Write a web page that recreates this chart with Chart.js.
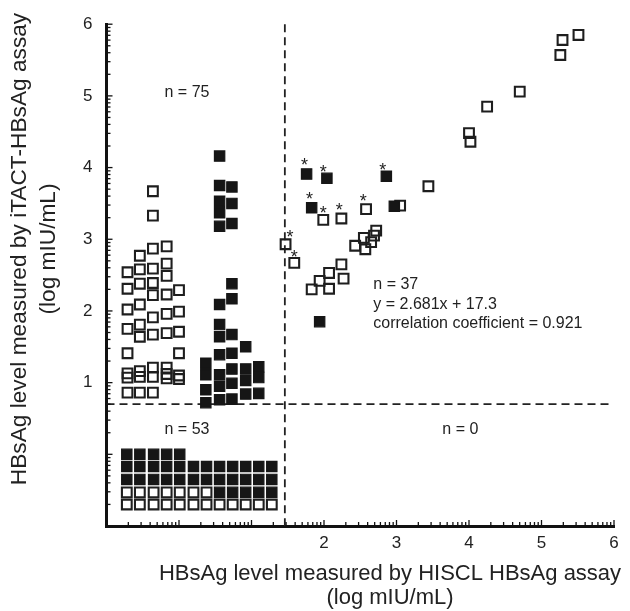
<!DOCTYPE html>
<html>
<head>
<meta charset="utf-8">
<script src="https://cdn.jsdelivr.net/npm/chart.js@4.4.1/dist/chart.umd.min.js"></script>
<style>
  html, body { margin: 0; padding: 0; background: #fff; }
</style>
</head>
<body>
<canvas id="chart" width="630" height="611"></canvas>
<script>
// HISCL below cutoff, iTACT above cutoff (strip columns on the left)
const leftOpen = [
  [-0.71, 2.54], [-0.71, 2.31], [-0.71, 2.02], [-0.71, 1.75], [-0.71, 1.41], [-0.71, 1.13], [-0.71, 1.07], [-0.71, 0.86],
  [-0.54, 2.77], [-0.54, 2.58], [-0.54, 2.38], [-0.54, 2.09], [-0.54, 1.81], [-0.54, 1.64], [-0.54, 1.16], [-0.54, 1.08], [-0.54, 0.86],
  [-0.36, 3.67], [-0.36, 3.33], [-0.36, 2.87], [-0.36, 2.59], [-0.36, 2.39], [-0.36, 2.22], [-0.36, 1.91], [-0.36, 1.67], [-0.36, 1.21], [-0.36, 1.08], [-0.36, 0.86],
  [-0.17, 2.90], [-0.17, 2.66], [-0.17, 2.49], [-0.17, 2.23], [-0.17, 1.96], [-0.17, 1.69], [-0.17, 1.21], [-0.17, 1.12], [-0.17, 1.06],
  [0.00, 2.29], [0.00, 1.99], [0.00, 1.71], [0.00, 1.41], [0.00, 1.10], [0.00, 1.05]
];
const leftFilled = [
  [0.37, 1.27], [0.37, 1.11], [0.37, 0.90], [0.37, 0.72],
  [0.56, 4.16], [0.56, 3.75], [0.56, 3.53], [0.56, 3.37], [0.56, 3.18], [0.56, 2.09], [0.56, 1.81], [0.56, 1.64], [0.56, 1.39], [0.56, 1.11], [0.56, 0.95], [0.56, 0.76],
  [0.73, 3.73], [0.73, 3.50], [0.73, 3.22], [0.73, 2.38], [0.73, 2.17], [0.73, 1.67], [0.73, 1.41], [0.73, 1.19], [0.73, 0.99], [0.73, 0.77],
  [0.92, 1.50], [0.92, 1.19], [0.92, 1.03], [0.92, 0.84],
  [1.10, 1.22], [1.10, 1.07], [1.10, 0.85]
];

// both assays below cutoff (n = 53), drawn as a block: F = filled, O = open
const gridCols = [-0.72, -0.54, -0.35, -0.17, 0.01, 0.20, 0.38, 0.56, 0.74, 0.92, 1.10, 1.28];
const gridRows = [0.00, -0.17, -0.35, -0.53, -0.70];
const gridMarks = [
  'FFFFF.......',
  'FFFFFFFFFFFF',
  'FFFFFFFFFFFF',
  'OOOOOOOFFFFF',
  'OOOOOOOOOOOO'
];

// both above cutoff (n = 37)
const rightOpen = [
  [3.44, 3.74], [3.05, 3.47], [1.99, 3.27], [2.24, 3.29], [2.58, 3.42], [1.47, 2.93], [1.59, 2.67],
  [2.72, 3.12], [2.69, 3.05], [2.55, 3.02], [2.65, 2.96], [2.43, 2.91], [2.57, 2.86],
  [2.24, 2.65], [2.07, 2.53], [1.94, 2.42], [2.27, 2.45], [1.83, 2.30], [2.07, 2.31],
  [5.51, 5.85], [5.29, 5.78], [5.26, 5.57], [4.70, 5.06], [4.25, 4.85], [4.00, 4.48], [4.02, 4.36]
];
const rightFilled = [
  [1.76, 3.91], [2.04, 3.85], [2.86, 3.88], [1.83, 3.44], [2.97, 3.46], [1.94, 1.85]
];

// asterisk annotations
const stars = [
  [1.73, 4.09], [1.99, 4.00], [2.81, 4.02], [1.80, 3.62], [1.99, 3.42],
  [2.21, 3.46], [2.54, 3.59], [1.53, 3.09], [1.59, 2.81]
];

const cutX = 1.46;
const cutY = 0.70;

const xTickLabels = ['2', '3', '4', '5', '6'];
const yTickLabels = ['1', '2', '3', '4', '5', '6'];

const quadrantText = [
  { text: 'n = 75', x: 0.11, y: 4.99 },
  { text: 'n = 53', x: 0.11, y: 0.28 },
  { text: 'n = 0', x: 3.88, y: 0.29 }
];
const fitText = ['n = 37', 'y = 2.681x + 17.3', 'correlation coefficient = 0.921'];
const fitTextAt = { x: 2.68, y: 2.30 };

const FONT = "'Liberation Sans', Arial, sans-serif";
const INK = '#222';

// log-style minor ticks on both axes
const logTicks = [];
for (let d = -1; d < 6; d++) {
  for (let k = 1; k < 10; k++) logTicks.push(d + Math.log10(k));
}
logTicks.push(6);

const toPts = arr => arr.map(p => ({ x: p[0], y: p[1] }));

const gridOpen = [];
const gridFilled = [];
gridMarks.forEach((row, r) => {
  row.split('').forEach((m, c) => {
    if (m === 'O') gridOpen.push({ x: gridCols[c], y: gridRows[r] });
    if (m === 'F') gridFilled.push({ x: gridCols[c], y: gridRows[r] });
  });
});

const openStyle = {
  pointStyle: 'rect', pointRadius: 6.9, borderWidth: 2.1,
  borderColor: '#1e1e1e', backgroundColor: 'rgba(0,0,0,0)'
};
const filledStyle = {
  pointStyle: 'rect', pointRadius: 7.3, borderWidth: 1.2,
  borderColor: '#161616', backgroundColor: '#161616'
};

const overlay = {
  id: 'overlay',
  beforeDatasetsDraw(chart) {
    const { ctx, chartArea: a, scales: { x, y } } = chart;
    ctx.save();
    ctx.strokeStyle = INK;
    ctx.lineWidth = 1.8;
    ctx.setLineDash([8, 5]);
    const cx = x.getPixelForValue(cutX);
    ctx.beginPath(); ctx.moveTo(cx, a.top); ctx.lineTo(cx, a.bottom); ctx.stroke();
    const cy = y.getPixelForValue(cutY);
    ctx.beginPath(); ctx.moveTo(a.left, cy); ctx.lineTo(a.right - 2, cy); ctx.stroke();
    ctx.restore();
  },
  afterDraw(chart) {
    const { ctx, chartArea: a, scales: { x, y } } = chart;
    ctx.save();
    // inward tick marks
    ctx.strokeStyle = '#111';
    ctx.lineWidth = 1.3;
    x.ticks.forEach(t => {
      const px = x.getPixelForValue(t.value);
      const len = Number.isInteger(t.value) ? 6 : 4;
      ctx.beginPath(); ctx.moveTo(px, a.bottom); ctx.lineTo(px, a.bottom - len); ctx.stroke();
    });
    y.ticks.forEach(t => {
      const py = y.getPixelForValue(t.value);
      const len = Number.isInteger(t.value) ? 6 : 4;
      ctx.beginPath(); ctx.moveTo(a.left, py); ctx.lineTo(a.left + len, py); ctx.stroke();
    });

    ctx.fillStyle = INK;
    ctx.font = '16px ' + FONT;
    ctx.textBaseline = 'alphabetic';
    ctx.textAlign = 'center';
    quadrantText.forEach(q => {
      ctx.fillText(q.text, x.getPixelForValue(q.x), y.getPixelForValue(q.y));
    });
    ctx.textAlign = 'left';
    fitText.forEach((line, i) => {
      ctx.fillText(line, x.getPixelForValue(fitTextAt.x), y.getPixelForValue(fitTextAt.y) + i * 19.3);
    });

    ctx.textAlign = 'center';
    ctx.font = '18px ' + FONT;
    stars.forEach(s => {
      ctx.fillText('*', x.getPixelForValue(s[0]), y.getPixelForValue(s[1]) + 10);
    });

    // axis titles
    ctx.font = '22px ' + FONT;
    ctx.fillText('HBsAg level measured by HISCL HBsAg assay', 390, 580);
    ctx.fillText('(log mIU/mL)', 390, 604);
    ctx.font = '22.7px ' + FONT;
    ctx.translate(26, 249);
    ctx.rotate(-Math.PI / 2);
    ctx.fillText('HBsAg level measured by iTACT-HBsAg assay', 0, 0);
    ctx.fillText('(log mIU/mL)', 0, 29);
    ctx.restore();
  }
};

const tickFont = { family: FONT, size: 17 };

new Chart(document.getElementById('chart'), {
  type: 'scatter',
  data: {
    datasets: [
      { data: toPts(rightFilled), ...filledStyle },
      { data: toPts(rightOpen), ...openStyle },
      { data: toPts(leftFilled), ...filledStyle },
      { data: toPts(leftOpen), ...openStyle },
      { data: gridFilled, ...filledStyle },
      { data: gridOpen, ...openStyle }
    ]
  },
  options: {
    responsive: false,
    animation: false,
    events: [],
    layout: { padding: { left: 0, top: 18.5, right: 16, bottom: 0 } },
    plugins: { legend: { display: false }, tooltip: { enabled: false } },
    scales: {
      x: {
        type: 'linear', position: 'bottom', min: -1, max: 6,
        afterBuildTicks: s => { s.ticks = logTicks.map(v => ({ value: v })); },
        afterFit: s => { s.height = 85; },
        grid: { display: false, drawTicks: false },
        border: { display: true, width: 3, color: '#111' },
        ticks: {
          autoSkip: false, maxRotation: 0, minRotation: 0, padding: 7,
          color: INK, font: tickFont,
          callback: v => (Number.isInteger(v) && xTickLabels.includes(String(v))) ? String(v) : ''
        }
      },
      y: {
        type: 'linear', position: 'left', min: -1, max: 6,
        afterBuildTicks: s => { s.ticks = logTicks.map(v => ({ value: v })); },
        afterFit: s => { s.width = 106.5; },
        grid: { display: false, drawTicks: false },
        border: { display: true, width: 3, color: '#111' },
        ticks: {
          autoSkip: false, padding: 14, color: INK, font: tickFont,
          callback: v => (Number.isInteger(v) && yTickLabels.includes(String(v))) ? String(v) : ''
        }
      }
    }
  },
  plugins: [overlay]
});
</script>
</body>
</html>
